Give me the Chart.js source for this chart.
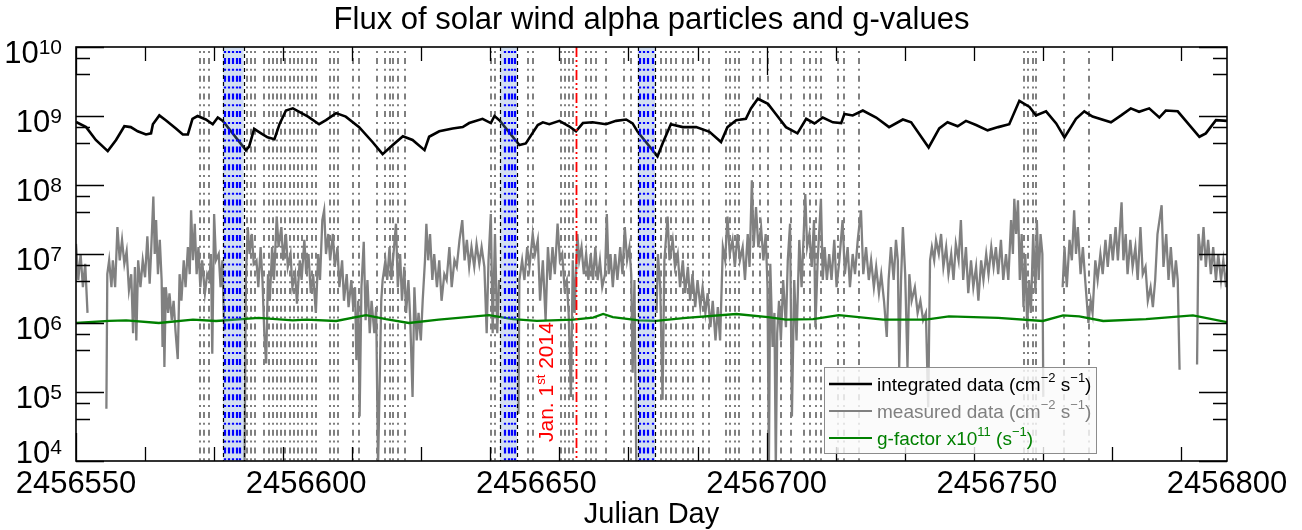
<!DOCTYPE html>
<html>
<head>
<meta charset="utf-8">
<title>Flux of solar wind alpha particles and g-values</title>
<script src="https://cdn.jsdelivr.net/npm/chart.js"></script>
<style>
  html, body { margin: 0; padding: 0; background: #fff; }
  canvas { display: block; }
</style>
</head>
<body>
<canvas id="fluxChart" width="1302" height="530"></canvas>
<script>
const JD0 = 2456550;           // day offsets below are counted from this Julian Day
const dayRange = 250;

// integrated flux (cm^-2 s^-1): [day offset, value]
const integrated = [
  [0, 8.2e8], [2.2, 6.9e8], [4.3, 4.5e8], [6.9, 3.1e8], [8.7, 4.5e8], [10.5, 7.1e8], [11.9, 6.9e8],
  [13.4, 6.0e8], [15.2, 5.4e8], [16.3, 5.6e8], [16.7, 7.6e8], [18.1, 1.02e9], [19.5, 8.7e8],
  [21.7, 6.6e8], [23.2, 5.4e8], [24.3, 5.4e8], [25.3, 9.1e8], [26.4, 1.0e9], [28.2, 8.9e8],
  [29.7, 7.6e8], [30.8, 9.5e8], [31.9, 8.5e8], [36.9, 3.2e8], [37.6, 3.6e8], [38.7, 6.5e8],
  [40.2, 5.6e8], [41.6, 4.9e8], [43.1, 4.6e8], [44.2, 7.6e8], [45.6, 1.2e9], [47.1, 1.29e9],
  [48.5, 1.15e9], [50.4, 9.8e8], [52.8, 7.6e8], [54.3, 8.7e8], [56.5, 1.1e9], [58.6, 9.8e8],
  [61.5, 6.9e8], [64.4, 4.2e8], [66.6, 2.8e8], [68.8, 3.8e8], [71.0, 5.1e8], [73.1, 4.5e8],
  [75.7, 3.2e8], [76.7, 5.0e8], [78.9, 6.0e8], [81.8, 6.6e8], [84.0, 6.9e8], [85.4, 7.9e8],
  [88.3, 9.1e8], [90.1, 7.9e8], [90.9, 1.0e9], [92.1, 8.5e8], [96.3, 3.8e8], [97.7, 4.0e8],
  [100.3, 7.4e8], [101.4, 8.1e8], [102.8, 7.6e8], [105.0, 8.5e8], [107.1, 7.1e8], [108.6, 6.0e8],
  [110.1, 7.9e8], [112.2, 8.1e8], [115.1, 7.6e8], [117.3, 8.5e8], [119.5, 8.9e8], [120.9, 7.8e8],
  [122.0, 5.9e8], [126.3, 2.6e8], [127.4, 4.0e8], [129.2, 7.6e8], [131.8, 6.9e8], [134.7, 6.9e8],
  [137.6, 5.9e8], [140.1, 4.2e8], [141.5, 6.9e8], [143.4, 8.7e8], [145.5, 9.1e8], [146.6, 1.29e9],
  [148.1, 1.78e9], [150.3, 1.5e9], [152.0, 1.07e9], [154.2, 6.9e8], [156.7, 5.6e8], [158.6, 9.1e8],
  [160.4, 7.8e8], [162.2, 9.5e8], [164.4, 8.1e8], [166.2, 7.9e8], [166.9, 1.07e9], [168.7, 1.02e9],
  [170.9, 1.2e9], [173.8, 9.5e8], [176.6, 6.9e8], [179.6, 8.9e8], [181.4, 8.1e8], [185.2, 3.5e8],
  [187.5, 6.6e8], [189.3, 8.1e8], [191.5, 7.1e8], [193.3, 8.5e8], [195.5, 7.4e8], [198.0, 6.2e8],
  [200.3, 6.9e8], [202.7, 7.6e8], [204.9, 1.66e9], [207.1, 1.35e9], [208.5, 1.02e9], [210.7, 1.17e9],
  [212.9, 7.8e8], [214.7, 4.9e8], [217.2, 9.1e8], [219.0, 1.17e9], [220.8, 9.8e8], [224.8, 8.1e8],
  [227.0, 1.02e9], [229.1, 1.29e9], [230.9, 1.15e9], [233.1, 1.29e9], [235.3, 9.5e8], [236.7, 1.2e9],
  [239.3, 1.17e9], [244.0, 5.0e8], [245.4, 5.6e8], [247.6, 8.7e8], [250, 8.5e8]
];

// g-factor x1e11 (s^-1)
const gFactor = [
  [0, 1.0e6], [7.2, 1.07e6], [10.9, 1.09e6], [18.0, 1.0e6], [25.4, 1.12e6], [30.4, 1.07e6],
  [39.7, 1.19e6], [47.1, 1.09e6], [50.0, 1.12e6], [56.5, 1.07e6], [63.0, 1.3e6], [67.3, 1.14e6],
  [72.3, 1.0e6], [78.8, 1.12e6], [89.7, 1.3e6], [94.9, 1.14e6], [100.1, 1.07e6], [108.0, 1.12e6],
  [112.3, 1.2e6], [114.5, 1.35e6], [116.6, 1.22e6], [122.3, 1.09e6], [126.0, 1.07e6], [132.5, 1.19e6],
  [143.4, 1.35e6], [150.3, 1.22e6], [154.2, 1.12e6], [160.1, 1.14e6], [165.7, 1.3e6], [175.3, 1.12e6],
  [184.6, 1.12e6], [189.6, 1.25e6], [200.3, 1.19e6], [210.0, 1.07e6], [214.4, 1.29e6], [217.9, 1.25e6],
  [223.1, 1.07e6], [232.4, 1.14e6], [242.6, 1.29e6], [250, 1.03e6]
];

// measured flux (cm^-2 s^-1); null = no data
const measured = [
  [0, 1.4e7], [0.5, 4.2e6], [1, 1.0e7], [1.5, 3.3e6], [2, 7.2e6], [2.5, 1.4e6], [3, null],
  [6.6, 5.7e4], [6.8, 5.1e6], [7.2, 8.1e6], [7.7, 3.3e6], [8, 8.1e6], [8.5, 3.3e6], [9, 2.45e7],
  [9.5, 8.1e6], [10, 1.6e7], [10.5, 7.2e6], [11, 1.1e7], [11.5, 3.0e6], [12, 5.1e6], [12.4, 7.1e5],
  [12.8, 6.5e6], [13.1, 5.6e5], [13.5, 8.1e6], [14, 3.3e6], [14.5, 8.1e6], [15, 4.6e6], [15.5, 1.8e7],
  [16, 3.7e6], [16.3, 1.0e7], [16.8, 6.8e7], [17.1, 1.0e7], [17.4, 3.1e7], [17.8, 5.1e6], [18.2, 1.6e7],
  [18.6, 4.2e6], [18.8, 4.5e5], [19.0, 3.3e6], [19.2, 2.3e5], [19.5, 3.3e6], [20, 1.4e6], [20.3, 2.7e6],
  [20.8, 1.1e6], [21.2, 2.1e6], [21.6, 7.8e5], [22.1, 3.0e5], [22.5, 5.1e6], [22.9, 2.1e6], [23.4, 8.1e6],
  [23.8, 3.3e6], [24.3, 1.26e7], [24.7, 5.1e6], [25, 4.3e7], [25.4, 8.1e6], [25.8, 2.75e7], [26.2, 5.1e6],
  [26.6, 1.26e7], [27, 3.3e6], [27.4, 8.1e6], [28, 2.7e6], [28.5, 5.1e6], [29, 4.2e6], [29.3, 1.0e7],
  [29.6, 3.6e5], [30, 3.8e7], [30.4, 8.1e6], [31, 1.0e7], [31.4, 3.3e6], [31.8, 8.1e6], [32.2, 7.8e5],
  [33, null],
  [36.6, 8e3], [36.9, 4.2e6], [37.3, 2.45e7], [37.7, 1.0e7], [38.2, 1.95e7], [38.6, 7.2e6], [39.2, 8.1e6],
  [39.6, 3.3e6], [40.1, 1.26e7], [40.5, 4.2e6], [40.9, 7.1e5], [41.3, 2.6e5], [41.7, 5.1e6], [42.1, 2.1e6],
  [42.6, 1.26e7], [43, 4.2e6], [43.6, 3.5e7], [44, 1.26e7], [44.6, 2.45e7], [45, 8.1e6], [45.6, 1.95e7],
  [46, 6.5e6], [46.6, 1.0e7], [47, 3.3e6], [47.6, 5.1e6], [48, 1.9e6], [48.6, 8.1e6], [49, 4.2e6],
  [49.6, 1.6e7], [50, 5.1e6], [50.5, 1.0e7], [51, 2.7e6], [51.5, 5.1e6], [52.1, 1.4e6], [52.6, 1.0e7],
  [53, 4.2e6], [53.5, 3.1e7], [53.9, 4.3e7], [54.3, 1.0e7], [54.8, 1.95e7], [55.2, 8.1e6], [55.8, 1.95e7],
  [56.2, 6.5e6], [56.8, 1.26e7], [57.2, 3.3e6], [57.8, 8.1e6], [58.2, 2.1e6], [58.8, 5.1e6], [59.2, 1.7e6],
  [59.8, 4.2e6], [60.2, 1.7e6], [60.6, 3.3e6], [60.9, 2.9e5], [61.3, 2.1e6], [61.6, 4.4e4], [62, 3.3e6],
  [62.5, 1.5e7], [62.9, 1.1e6], [63.3, 4.2e6], [63.8, 7.1e5], [64.2, 2.1e6], [64.8, 7.1e5], [65.2, 1.7e6],
  [65.6, 8e3], [66.3, 2.1e6], [66.6, 4.2e6], [67.2, 8.1e6], [67.6, 4.2e6], [68.1, 1.26e7], [68.5, 4.2e6],
  [69.5, 2.75e7], [69.9, 3.3e6], [70.4, 1.0e7], [70.8, 2.1e6], [71.3, 6.5e6], [71.7, 1.4e6], [72.2, 4.2e6],
  [72.6, 1.1e6], [73.1, 8.5e4], [73.5, 3.3e6], [74, 5.6e5], [74.4, 1.4e6], [74.9, 5.6e5], [75.3, 2.1e6],
  [75.8, 8.1e6], [76.1, 2.75e7], [76.5, 8.1e6], [76.9, 1.95e7], [77.4, 4.2e6], [77.8, 1.0e7], [78.4, 3.3e6],
  [78.9, 8.1e6], [79.4, 2.1e6], [80, 5.1e6], [80.5, 4.2e6], [81.1, 1.26e7], [81.6, 3.3e6], [82.2, 8.1e6],
  [82.7, 6.5e6], [83.3, 1.6e7], [83.9, 3.1e7], [84.4, 8.1e6], [84.9, 1.6e7], [85.4, 6.5e6], [85.9, 1.26e7],
  [86.5, 6.5e6], [87, 1.4e7], [87.6, 7.2e6], [88.1, 1.26e7], [88.7, 6.5e6], [89.2, 7.1e5], [89.6, 8.1e6],
  [90.1, 3.8e7], [90.5, 7.1e5], [91, 1.95e7], [91.5, 7.1e5], [91.9, 4.2e6], [92.1, null],
  [96.1, 4.8e4], [96.3, 4.2e6], [96.9, 8.1e6], [97.4, 4.2e6], [98, 1.26e7], [98.5, 6.5e6], [99.2, 1.95e7],
  [99.7, 1.0e7], [100.3, 1.6e7], [100.8, 2.1e6], [101.4, 8.1e6], [102, 1.1e6], [102.5, 1.26e7], [103, 4.2e6],
  [103.5, 1.26e7], [104, 5.1e6], [104.6, 2.75e7], [105.1, 8.1e6], [105.6, 1.0e7], [106.1, 3.3e6],
  [106.6, 4.2e6], [107, 1.4e6], [107.5, 8.5e4], [107.9, 8.1e6], [108.3, 1.4e6], [108.9, 1.95e7],
  [109.3, 8.1e6], [109.8, 1.26e7], [110.3, 5.1e6], [110.8, 1.0e7], [111.3, 4.2e6], [111.8, 1.0e7],
  [112.3, 4.2e6], [112.8, 1.26e7], [113.3, 4.2e6], [113.8, 8.1e6], [114.3, 3.3e6], [114.9, 5.1e6],
  [115.3, 3.8e7], [115.7, 5.1e6], [116.1, 1.0e7], [116.6, 3.3e6], [117.1, 1.0e7], [117.6, 4.2e6],
  [118.2, 1.26e7], [118.7, 5.1e6], [119.2, 2.45e7], [119.7, 8.1e6], [120.2, 1.26e7], [120.6, 5.1e6],
  [120.9, 1.9e5], [121.3, 4.2e6], [121.7, 8e3], [122, null],
  [126.1, 1.4e6], [126.4, 1.0e7], [126.9, 3.3e6], [127.4, 7.7e4], [127.8, 8.1e6], [128.5, 3.5e7],
  [128.9, 8.1e6], [129.6, 1.6e7], [130.1, 6.5e6], [130.7, 1.0e7], [131.2, 3.3e6], [131.8, 8.1e6],
  [132.3, 2.7e6], [132.9, 6.5e6], [133.4, 2.1e6], [133.9, 5.1e6], [134.5, 1.7e6], [135, 4.2e6],
  [135.6, 1.7e6], [136.1, 3.3e6], [136.7, 1.4e6], [137.2, 2.7e6], [137.8, 8.7e5], [138.3, 2.1e6],
  [138.9, 5.6e5], [139.4, 1.7e6], [139.9, 5.6e5], [140.5, 1.26e7], [141, 8.1e6], [141.5, 3.5e7],
  [142, 1.0e7], [142.6, 1.6e7], [143.1, 6.5e6], [143.7, 1.95e7], [144.2, 8.1e6], [144.8, 1.26e7],
  [145.3, 4.2e6], [145.9, 1.95e7], [146.3, 6.5e6], [146.8, 1.17e8], [147.2, 1.26e7], [147.7, 4.8e7],
  [148.2, 1.26e7], [148.8, 2.45e7], [149.3, 8.1e6], [149.8, 1.95e7], [150.2, 3.3e6], [150.5, 8e3],
  [150.8, 7.2e6], [151.3, 4.5e5], [151.7, 1.4e6], [152, 8e3], [152.3, 7.1e5], [152.7, 2.1e6],
  [153.1, 5.6e5], [153.6, 4.2e6], [154.2, 8.7e5], [154.6, 8.1e6], [155.1, 2.75e7], [155.5, 4.4e4],
  [156, 4.2e6], [156.5, 5.6e5], [157.1, 1.6e7], [157.6, 3.3e6], [158.4, 7.4e7], [158.8, 1.26e7],
  [159.3, 1.95e7], [159.8, 6.5e6], [160.3, 3.1e7], [160.6, 8.7e5], [161.1, 8.1e6], [161.8, 6.3e7],
  [162.2, 4.2e6], [162.6, 1.26e7], [163.1, 4.2e6], [163.6, 1.0e7], [164.1, 4.2e6], [164.7, 1.6e7],
  [165.2, 3.3e6], [165.8, 8.1e6], [166.5, 3.1e7], [167, 5.1e6], [167.6, 1.26e7], [168.1, 3.3e6],
  [168.7, 1.0e7], [169.2, 5.1e6], [169.8, 1.6e7], [170.5, 4.3e7], [171, 5.1e6], [171.6, 1.26e7],
  [172.2, 4.2e6], [172.7, 8.1e6], [173.3, 3.3e6], [173.8, 6.5e6], [174.4, 2.7e6], [174.9, 5.1e6],
  [175.5, 2.1e6], [176.1, 6.3e5], [176.5, 4.2e6], [177, 1.26e7], [177.6, 4.2e6], [178.1, 1.6e7],
  [178.5, 8.1e6], [178.8, 2.3e5], [179.2, 4.2e6], [179.6, 2.45e7], [180.1, 5.1e6], [180.6, 2.3e5],
  [181, 5.1e6], [181.5, 2.1e6], [182.2, 3.3e6], [182.8, 1.4e6], [183.4, 2.1e6], [184, 1.1e6],
  [184.6, 1.4e6], [185.1, 6.0e4], [185.5, 8.1e6], [185.9, 1.26e7], [186.4, 8.1e6], [186.8, 1.6e7],
  [187.4, 1.0e7], [187.9, 1.95e7], [188.4, 6.5e6], [189, 1.26e7], [189.5, 5.1e6], [190.1, 1.0e7],
  [190.6, 4.2e6], [191.1, 1.4e7], [191.7, 8.1e6], [192.2, 3.1e7], [192.7, 4.2e6], [193.3, 1.26e7],
  [193.8, 2.7e6], [194.4, 8.1e6], [194.9, 3.3e6], [195.5, 6.5e6], [196, 2.1e6], [196.6, 8.1e6],
  [197.1, 4.2e6], [197.7, 1.0e7], [198.2, 5.1e6], [198.8, 1.26e7], [199.3, 6.5e6], [199.8, 1.26e7],
  [200.3, 5.1e6], [200.9, 1.6e7], [201.4, 4.2e6], [202, 1.0e7], [202.5, 4.2e6], [203.1, 3.1e7],
  [203.5, 1.0e7], [203.8, 6.3e7], [204.2, 1.95e7], [204.6, 6.0e7], [205, 4.2e6], [205.4, 1.95e7],
  [205.8, 1.7e6], [206.2, 1.0e7], [206.6, 8.7e5], [207, 4.2e6], [207.4, 1.4e6], [207.9, 1.95e7],
  [208.4, 2.7e6], [208.7, 3.1e7], [209.1, 4.2e6], [209.5, 1.95e7], [209.9, 1.0e7], [210.1, 8.5e4],
  [210.5, null],
  [214.3, 3.3e6], [214.7, 1.26e7], [215.2, 3.3e6], [215.8, 1.6e7], [216.3, 8.1e6], [216.8, 4.3e7],
  [217.2, 1.0e7], [217.6, 2.45e7], [218.2, 5.1e6], [218.7, 1.26e7], [219.2, 4.2e6], [219.9, 1.0e6],
  [220.4, 2.1e6], [220.8, 1.4e6], [221.4, 8.1e6], [221.9, 4.2e6], [222.5, 1.0e7], [223, 5.1e6],
  [223.6, 1.6e7], [224.1, 6.5e6], [224.7, 1.95e7], [225.2, 8.1e6], [225.8, 2.45e7], [226.3, 8.1e6],
  [227.1, 5.6e7], [227.5, 8.1e6], [228, 1.95e7], [228.4, 5.1e6], [229, 1.6e7], [229.5, 6.5e6],
  [230.1, 1.26e7], [230.6, 4.2e6], [231.2, 2.45e7], [231.7, 5.1e6], [232.3, 6.5e6], [232.8, 2.1e6],
  [233.4, 3.3e6], [233.9, 1.7e6], [234.4, 4.2e6], [234.9, 1.95e7], [235.8, 5.1e7], [236.2, 6.5e6],
  [236.8, 1.95e7], [237.3, 4.2e6], [237.8, 1.26e7], [238.4, 3.3e6], [238.9, 8.1e6], [239.3, 4.2e6],
  [239.7, 2.1e5], [240, null],
  [243.5, 2.5e5], [243.8, 1.95e7], [244.4, 8.1e6], [244.9, 2.45e7], [245.4, 6.5e6], [245.9, 1.6e7],
  [246.5, 5.1e6], [247, 1.26e7], [247.6, 4.2e6], [248.1, 1.0e7], [248.7, 4.2e6], [249.2, 8.1e6],
  [249.8, 3.3e6], [250.2, 8.1e6]
];

// marked days (day offsets)
const eventDays = [
  26.9, 27.9, 28.8, 37.1, 38.0, 38.9, 40.9, 41.9, 42.7, 43.7, 44.6, 45.5, 46.4, 47.3, 48.2, 49.1,
  50.1, 51.3, 52.1, 55.2, 56.1, 57.0, 60.1, 61.4, 65.4, 67.1, 68.1, 68.9, 69.9, 71.5, 90.1, 91.1,
  98.1, 99.2, 105.3, 106.2, 107.1, 107.9, 110.8, 111.9, 112.9, 115.1, 119.0, 120.6, 127.1, 128.1,
  129.2, 130.3, 131.8, 132.9, 134.0, 136.2, 137.5, 141.2, 142.1, 143.1, 144.0, 147.0, 148.6, 150.3,
  153.1, 155.3, 158.2, 159.4, 160.7, 161.8, 165.4, 166.9, 170.0, 206.0, 206.8, 207.8, 208.5, 214.7, 220.0
];
const gapBands = [[31.9, 36.4], [92.1, 95.8], [122.0, 125.8]];
const gapLineDays = [32.4, 33.2, 34.0, 34.9, 35.6, 93.1, 94.0, 94.8, 95.4, 122.5, 123.4, 124.3, 125.3];
const newYearDay = 108.5;       // Jan. 1st 2014 = JD 2456658.5

const yExponents = [4, 5, 6, 7, 8, 9, 10];
const xTickLabels = [2456550, 2456600, 2456650, 2456700, 2456750, 2456800];

const FONT = '"Liberation Sans", Arial, Helvetica, sans-serif';
const DASH_DOT = [6, 4.8, 2, 4.9];

const toPoints = rows => rows.map(([d, v]) => ({ x: JD0 + d, y: v }));

// text with superscripts: parts = [[text, isSup], ...]
function richText(ctx, parts, x, y, size, supSize, raise, align) {
  const widthOf = ([t, sup]) => { ctx.font = `${sup ? supSize : size}px ${FONT}`; return ctx.measureText(t).width; };
  const total = parts.reduce((s, p) => s + widthOf(p), 0);
  let cx = align === 'right' ? x - total : align === 'center' ? x - total / 2 : x;
  parts.forEach(p => {
    const w = widthOf(p);
    ctx.fillText(p[0], cx, p[1] ? y - raise : y);
    cx += w;
  });
}

function vline(ctx, px, area, color, width, dash, offset) {
  ctx.beginPath();
  ctx.strokeStyle = color;
  ctx.lineWidth = width;
  ctx.setLineDash(dash);
  ctx.lineDashOffset = offset || 0;
  ctx.moveTo(px, area.top);
  ctx.lineTo(px, area.bottom);
  ctx.stroke();
}

const decorations = {
  id: 'decorations',
  beforeDatasetsDraw(chart) {
    const { ctx, chartArea: a, scales: { x } } = chart;
    ctx.save();
    ctx.beginPath(); ctx.rect(a.left, a.top, a.width, a.height); ctx.clip();
    eventDays.forEach(d => vline(ctx, Math.round(x.getPixelForValue(JD0 + d)), a, '#808080', 2, DASH_DOT, 6.7));
    ctx.restore();
  },
  afterDatasetsDraw(chart) {
    const { ctx, chartArea: a, scales: { x, y } } = chart;
    const px = d => x.getPixelForValue(JD0 + d);
    ctx.save();
    ctx.beginPath(); ctx.rect(a.left, a.top, a.width, a.height); ctx.clip();
    ctx.fillStyle = 'rgba(110,150,210,0.3)';
    gapBands.forEach(([d0, d1]) => ctx.fillRect(px(d0), a.top, px(d1) - px(d0), a.height));
    gapLineDays.forEach(d => vline(ctx, Math.round(px(d)), a, '#0000ff', 2.2, DASH_DOT, 6.7));
    gapBands.forEach(b => b.forEach(d => vline(ctx, Math.round(px(d)) + 0.5, a, '#000000', 1.2, [4, 3])));
    vline(ctx, Math.round(px(newYearDay)) + 0.5, a, '#ff0000', 1.8, [10, 3, 2, 3, 2, 3]);
    ctx.restore();

    // Jan. 1st label, rotated
    ctx.save();
    ctx.translate(px(newYearDay) - 23, a.bottom - 19);
    ctx.rotate(-Math.PI / 2);
    ctx.fillStyle = '#ff0000';
    ctx.textBaseline = 'alphabetic';
    richText(ctx, [['Jan. 1', false], ['st', true], [' 2014', false]], 0, 0, 21, 13, 8, 'left');
    ctx.restore();

    // frame and inward ticks
    ctx.save();
    ctx.strokeStyle = '#000';
    ctx.setLineDash([]);
    ctx.lineWidth = 1.3;
    ctx.beginPath();
    x.ticks.forEach(t => {
      const p = Math.round(x.getPixelForValue(t.value)) + 0.5;
      const len = t.major ? 28 : 14;
      ctx.moveTo(p, a.bottom); ctx.lineTo(p, a.bottom - len);
      ctx.moveTo(p, a.top); ctx.lineTo(p, a.top + len);
    });
    y.ticks.forEach(t => {
      const p = Math.round(y.getPixelForValue(t.value)) + 0.5;
      const len = t.major ? 28 : 14;
      ctx.moveTo(a.left, p); ctx.lineTo(a.left + len, p);
      ctx.moveTo(a.right, p); ctx.lineTo(a.right - len, p);
    });
    ctx.stroke();
    ctx.lineWidth = 1.6;
    ctx.strokeRect(a.left, a.top, a.width, a.height);
    ctx.restore();
  },
  afterDraw(chart) {
    const { ctx, chartArea: a, scales: { x, y } } = chart;
    ctx.save();
    ctx.fillStyle = '#000';
    ctx.textBaseline = 'alphabetic';

    // y labels 10^n
    yExponents.forEach(e => {
      const p = y.getPixelForValue(Math.pow(10, e));
      const base = Math.min(p + 16, a.bottom + 2);
      richText(ctx, [['10', false], [String(e), true]], a.left - 14, base, 31, 21, 9, 'right');
    });

    // x labels
    ctx.font = `31px ${FONT}`;
    ctx.textAlign = 'center';
    xTickLabels.forEach(v => ctx.fillText(String(v), x.getPixelForValue(v), a.bottom + 32));

    // titles
    ctx.font = `31px ${FONT}`;
    ctx.fillText('Flux of solar wind alpha particles and g-values', (a.left + a.right) / 2, 29);
    ctx.font = `29px ${FONT}`;
    ctx.fillText('Julian Day', (a.left + a.right) / 2, 523);
    ctx.textAlign = 'left';

    // legend
    const lx = a.right - 403, ly = a.bottom - 94, lw = 272, lh = 86;
    ctx.fillStyle = 'rgba(250,250,250,0.82)';
    ctx.fillRect(lx, ly, lw, lh);
    ctx.strokeStyle = '#8c8c8c';
    ctx.lineWidth = 1;
    ctx.strokeRect(lx + 0.5, ly + 0.5, lw, lh);
    const rows = [
      { color: '#000000', width: 2.5, parts: [['integrated data (cm', false], ['\u22122', true], [' s', false], ['\u22121', true], [')', false]] },
      { color: '#808080', width: 2, parts: [['measured data (cm', false], ['\u22122', true], [' s', false], ['\u22121', true], [')', false]] },
      { color: '#008000', width: 2.2, parts: [['g-factor x10', false], ['11', true], [' (s', false], ['\u22121', true], [')', false]] }
    ];
    rows.forEach((r, i) => {
      const ry = ly + 17 + i * 27;
      ctx.beginPath();
      ctx.strokeStyle = r.color;
      ctx.lineWidth = r.width;
      ctx.moveTo(lx + 5, ry); ctx.lineTo(lx + 48, ry);
      ctx.stroke();
      ctx.fillStyle = r.color;
      richText(ctx, r.parts, lx + 53, ry + 7, 19, 13, 9, 'left');
    });
    ctx.restore();
  }
};

new Chart(document.getElementById('fluxChart'), {
  type: 'line',
  data: {
    datasets: [
      { label: 'integrated data', data: toPoints(integrated), borderColor: '#000000', borderWidth: 2.6, clip: 0 },
      { label: 'g-factor', data: toPoints(gFactor), borderColor: '#008000', borderWidth: 2.3, clip: 0 },
      { label: 'measured data', data: toPoints(measured), borderColor: '#808080', borderWidth: 2.3, clip: 0 }
    ]
  },
  options: {
    responsive: false,
    animation: false,
    spanGaps: false,
    layout: { padding: { left: 76, top: 47, right: 75, bottom: 69 } },
    elements: { point: { radius: 0 }, line: { tension: 0 } },
    plugins: { legend: { display: false }, tooltip: { enabled: false } },
    scales: {
      x: {
        type: 'linear', min: JD0, max: JD0 + dayRange, display: false,
        afterBuildTicks(scale) {
          const ticks = [];
          for (let d = 0; d <= dayRange; d += 5) ticks.push({ value: JD0 + d, major: d % 50 === 0 });
          scale.ticks = ticks;
        }
      },
      y: {
        type: 'logarithmic', min: Math.pow(10, yExponents[0]), max: Math.pow(10, yExponents[yExponents.length - 1]), display: false,
        afterBuildTicks(scale) {
          const ticks = [];
          yExponents.slice(0, -1).forEach(e => {
            for (let m = 1; m <= 9; m++) ticks.push({ value: m * Math.pow(10, e), major: m === 1 });
          });
          ticks.push({ value: Math.pow(10, yExponents[yExponents.length - 1]), major: true });
          scale.ticks = ticks;
        }
      }
    }
  },
  plugins: [decorations]
});
</script>
</body>
</html>
